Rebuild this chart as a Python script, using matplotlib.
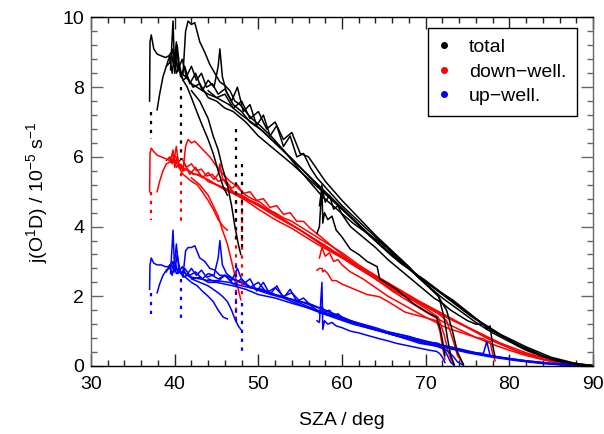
import matplotlib
matplotlib.use("Agg")
import matplotlib.pyplot as plt
from matplotlib.lines import Line2D

plt.rcParams['font.family'] = ['Liberation Sans', 'DejaVu Sans']
plt.rcParams['mathtext.default'] = 'regular'

# ---- flight tracks (SZA, total / down-welling / up-welling j(O1D)) ----
x1 = [37.0, 37.05, 37.2, 37.5, 37.9, 38.4, 38.9, 39.3, 39.6, 39.8, 40.1, 40.4, 40.8, 41.3, 42.0, 43.0, 44.0, 45.0, 46.5, 48.0, 50.0, 52.0, 55.0, 58.0, 61.0, 64.0, 67.0, 70.0, 73.0, 76.0, 79.0, 82.0, 85.0, 88.0, 90.0]
t1 = [7.6, 9.3, 9.5, 9.1, 8.95, 8.9, 8.85, 8.9, 9.0, 8.7, 8.8, 8.5, 8.4, 8.3, 8.1, 7.95, 7.8, 7.7, 7.5, 7.2, 6.85, 6.4, 5.7, 5.0, 4.3, 3.6, 2.95, 2.45, 1.9, 1.35, 0.9, 0.55, 0.25, 0.07, 0.01]
d1 = [5.0, 6.1, 6.25, 6.15, 6.05, 6.0, 5.95, 5.9, 6.0, 5.85, 5.9, 5.75, 5.7, 5.65, 5.55, 5.45, 5.35, 5.2, 5.05, 4.85, 4.6, 4.3, 3.9, 3.45, 2.95, 2.5, 2.05, 1.75, 1.35, 1.0, 0.65, 0.38, 0.17, 0.05, 0.01]
u1 = [2.2, 2.9, 3.1, 2.95, 2.9, 2.9, 2.85, 2.85, 2.95, 2.8, 2.9, 2.7, 2.7, 2.65, 2.55, 2.5, 2.45, 2.45, 2.4, 2.3, 2.2, 2.05, 1.85, 1.6, 1.3, 1.05, 0.85, 0.7, 0.55, 0.38, 0.25, 0.15, 0.08, 0.03, 0.005]

x2 = [37.9, 38.2, 38.6, 39.0, 39.4, 39.8, 40.2, 40.6, 41.0, 41.5, 42.2, 43.0, 44.0, 45.0, 46.0, 47.0, 48.5, 50.0, 52.0, 54.0, 57.0, 60.0, 63.0, 66.0, 69.0, 72.0, 75.0, 78.0, 81.0, 84.0, 87.0, 90.0]
t2 = [7.35, 7.8, 8.3, 8.6, 8.7, 9.1, 8.4, 8.6, 8.2, 8.3, 8.0, 8.1, 7.7, 7.6, 7.4, 7.3, 7.0, 6.6, 6.2, 5.8, 5.15, 4.5, 3.8, 3.15, 2.6, 2.05, 1.5, 1.0, 0.62, 0.3, 0.1, 0.01]
d2 = [5.0, 5.3, 5.6, 5.8, 5.85, 6.1, 5.7, 5.8, 5.6, 5.65, 5.5, 5.5, 5.3, 5.2, 5.05, 4.95, 4.75, 4.5, 4.2, 3.95, 3.5, 3.1, 2.65, 2.2, 1.85, 1.45, 1.1, 0.72, 0.42, 0.2, 0.06, 0.01]
u2 = [2.1, 2.35, 2.6, 2.75, 2.8, 3.0, 2.65, 2.75, 2.55, 2.6, 2.5, 2.55, 2.4, 2.4, 2.35, 2.3, 2.2, 2.05, 1.95, 1.8, 1.6, 1.35, 1.1, 0.9, 0.72, 0.55, 0.38, 0.25, 0.15, 0.07, 0.02, 0.0]

x3 = [39.9, 40.2, 40.5, 41.0, 41.5, 42.0, 42.7, 43.3, 44.0, 44.6, 45.2, 45.8, 46.3]
t3 = [8.6, 9.3, 8.5, 8.2, 8.0, 7.7, 7.26, 6.9, 6.5, 6.1, 5.6, 5.14, 4.9]
d3 = [5.9, 6.3, 5.7, 5.5, 5.4, 5.3, 5.2, 5.0, 4.75, 4.5, 4.2, 4.0, 3.9]
u3 = [2.7, 3.5, 2.75, 2.6, 2.5, 2.4, 2.3, 2.15, 2.0, 1.85, 1.6, 1.4, 1.35]

x4 = [41.0, 41.3, 41.6, 42.0, 42.4, 43.0, 43.6, 44.2, 44.8, 45.4, 46.0, 46.6, 47.2, 47.8, 48.5, 49.2, 50.2, 51.5, 53.0, 55.0, 57.7, 61.3, 65.4, 69.3, 73.2, 77.3, 81.3, 85.2, 88.0, 90.0]
t4 = [8.4, 9.6, 9.9, 9.8, 9.85, 9.3, 9.0, 8.65, 8.4, 8.15, 8.05, 7.9, 7.6, 7.5, 7.3, 7.1, 6.9, 6.6, 6.2, 5.6, 4.85, 4.1, 3.4, 2.5, 1.9, 1.12, 0.55, 0.17, 0.05, 0.01]
d4 = [5.6, 6.3, 6.5, 6.4, 6.45, 6.3, 6.15, 6.0, 5.8, 5.6, 5.45, 5.3, 5.2, 5.05, 4.9, 4.8, 4.7, 4.45, 4.2, 3.9, 3.45, 2.95, 2.4, 1.85, 1.35, 0.8, 0.38, 0.12, 0.04, 0.01]
u4 = [2.6, 3.3, 3.4, 3.4, 3.45, 3.1, 3.0, 2.8, 2.75, 2.6, 2.6, 2.55, 2.45, 2.4, 2.35, 2.25, 2.15, 2.05, 1.95, 1.75, 1.5, 1.2, 0.95, 0.65, 0.5, 0.3, 0.17, 0.06, 0.02, 0.0]

x5 = [39.5, 39.8, 40.0, 40.3, 40.7, 41.2, 41.8, 42.5, 43.3, 44.0, 44.7, 45.2, 45.4, 45.7, 46.2, 47.0, 48.0, 49.0, 50.5, 52.0, 54.0, 56.0, 58.0, 60.0, 62.0, 64.0, 66.0, 68.0, 70.0, 71.5, 72.2, 72.6, 73.0, 73.4]
t5 = [8.5, 9.9, 8.4, 9.2, 8.3, 8.6, 8.1, 8.4, 7.9, 8.2, 8.0, 8.6, 9.1, 8.3, 7.85, 7.5, 7.3, 7.0, 6.75, 6.4, 5.95, 5.45, 4.95, 4.5, 4.05, 3.6, 3.2, 2.8, 2.35, 2.05, 1.4, 0.8, 0.3, 0.05]
d5 = [5.85, 6.2, 5.7, 6.0, 5.65, 5.8, 5.5, 5.7, 5.4, 5.55, 5.35, 5.5, 5.8, 5.4, 5.2, 5.0, 4.9, 4.75, 4.55, 4.35, 4.05, 3.75, 3.45, 3.15, 2.85, 2.55, 2.25, 1.95, 1.65, 1.4, 0.9, 0.5, 0.2, 0.03]
u5 = [2.65, 3.9, 2.7, 3.2, 2.65, 2.8, 2.6, 2.7, 2.5, 2.65, 2.6, 3.1, 3.6, 2.9, 2.65, 2.5, 2.4, 2.25, 2.2, 2.05, 1.9, 1.7, 1.5, 1.35, 1.2, 1.05, 0.95, 0.85, 0.7, 0.65, 0.5, 0.3, 0.1, 0.02]

x6 = [57.0, 57.3, 57.6, 57.7, 57.9, 58.3, 58.8, 59.3, 60.0, 61.0, 62.0, 63.0, 64.2, 64.5, 65.5, 66.5, 67.5, 68.5, 69.5, 70.5, 71.3, 71.7, 72.0, 72.3]
t6 = [3.8, 4.0, 5.2, 4.1, 4.4, 4.2, 4.3, 3.9, 3.7, 3.35, 3.2, 3.0, 2.85, 2.5, 2.35, 2.2, 2.0, 1.8, 1.65, 1.5, 1.4, 1.1, 0.75, 0.3]
d6 = [2.75, 2.8, 2.8, 2.7, 2.75, 2.65, 2.45, 2.45, 2.35, 2.25, 2.15, 2.05, 2.0, 1.98, 1.85, 1.7, 1.55, 1.48, 1.42, 1.35, 1.3, 1.0, 0.55, 0.2]
u6 = [1.3, 1.25, 2.4, 1.05, 1.3, 1.2, 1.25, 1.15, 1.1, 1.0, 0.95, 0.88, 0.8, 0.78, 0.72, 0.65, 0.6, 0.55, 0.5, 0.45, 0.42, 0.35, 0.25, 0.1]

x7 = [57.3, 57.6, 58.0, 58.5, 59.0, 59.5, 60.0, 61.0, 62.5, 64.0, 65.5, 67.0, 68.5, 70.0, 71.0, 72.0, 73.0, 74.0, 75.0, 76.0, 76.9, 77.3, 77.7, 78.0, 78.3]
t7 = [4.6, 5.1, 4.7, 4.9, 4.5, 4.6, 4.35, 4.0, 3.7, 3.4, 3.05, 2.75, 2.45, 2.15, 1.95, 1.8, 1.6, 1.45, 1.3, 1.2, 1.2, 1.05, 1.15, 0.6, 0.25]
d7 = [3.1, 3.4, 3.15, 3.25, 3.0, 3.05, 2.9, 2.7, 2.5, 2.25, 2.0, 1.8, 1.6, 1.4, 1.28, 1.15, 1.05, 0.98, 0.9, 0.82, 0.78, 0.72, 0.7, 0.35, 0.15]
u7 = [1.5, 1.7, 1.55, 1.6, 1.45, 1.5, 1.4, 1.3, 1.2, 1.1, 0.98, 0.9, 0.8, 0.72, 0.65, 0.6, 0.52, 0.47, 0.42, 0.38, 0.36, 0.7, 0.3, 0.28, 0.25]

x8 = [44.0, 45.0, 46.0, 47.0, 48.0, 49.0, 50.0, 51.0, 52.0, 53.0, 54.0, 55.0, 56.0, 58.0, 60.0, 62.0, 64.0, 66.0, 68.0, 70.0, 71.5, 72.5, 73.2, 73.8, 74.5]
t8 = [7.9, 7.7, 7.8, 7.4, 7.6, 7.1, 7.3, 6.8, 7.0, 6.5, 6.7, 6.1, 6.0, 5.3, 4.75, 4.25, 3.75, 3.3, 2.85, 2.35, 2.0, 1.6, 1.0, 0.4, 0.05]
d8 = [5.3, 5.2, 5.1, 4.95, 4.9, 4.75, 4.65, 4.5, 4.4, 4.25, 4.15, 4.0, 3.85, 3.55, 3.25, 2.9, 2.6, 2.3, 2.0, 1.7, 1.5, 1.3, 0.8, 0.3, 0.05]
u8 = [2.5, 2.4, 2.6, 2.35, 2.5, 2.25, 2.4, 2.1, 2.25, 2.0, 2.1, 1.85, 1.8, 1.6, 1.4, 1.2, 1.05, 0.9, 0.78, 0.65, 0.55, 0.45, 0.3, 0.12, 0.02]

x9 = [42.0, 43.0, 44.0, 44.6, 45.2, 45.7, 46.3, 46.8, 47.2, 47.6, 47.9]
t9 = [7.9, 7.6, 7.1, 6.6, 6.2, 5.7, 5.2, 4.6, 4.0, 3.5, 3.2]
d9 = [5.4, 5.2, 4.9, 4.6, 4.3, 3.9, 3.5, 3.0, 2.6, 2.2, 1.9]
u9 = [2.5, 2.4, 2.3, 2.2, 2.1, 2.0, 1.85, 1.6, 1.35, 1.15, 1.05]

x10 = [39.0, 39.4, 39.7, 40.0, 40.4, 40.9, 41.4, 42.0, 42.6, 43.2, 43.8, 44.5, 45.2, 46.0, 46.8, 47.5, 48.2, 49.0, 49.8, 50.6, 51.4, 52.2, 53.0, 53.8, 54.6, 55.4, 56.2, 57.0, 58.5, 60.0, 62.0, 64.0, 66.0, 68.0, 70.0, 72.0, 74.0, 76.0, 78.0, 80.0, 82.0, 84.0, 86.0, 88.0, 90.0]
t10 = [8.6, 8.9, 8.4, 9.0, 8.5, 8.8, 8.3, 8.6, 8.2, 8.4, 8.0, 8.1, 7.8, 7.95, 7.6, 8.0, 7.3, 7.5, 6.9, 7.2, 6.6, 6.9, 6.3, 6.6, 6.0, 6.1, 5.7, 5.4, 5.0, 4.6, 4.15, 3.7, 3.25, 2.8, 2.35, 1.95, 1.6, 1.25, 0.95, 0.7, 0.45, 0.27, 0.13, 0.04, 0.0]
d10 = [5.9, 6.0, 5.8, 6.05, 5.85, 5.95, 5.7, 5.8, 5.6, 5.65, 5.45, 5.5, 5.3, 5.35, 5.1, 5.2, 4.95, 5.0, 4.75, 4.8, 4.55, 4.6, 4.35, 4.4, 4.15, 4.15, 3.95, 3.8, 3.5, 3.2, 2.85, 2.5, 2.15, 1.85, 1.55, 1.28, 1.05, 0.82, 0.62, 0.45, 0.3, 0.18, 0.08, 0.02, 0.0]
u10 = [2.7, 2.9, 2.6, 3.0, 2.65, 2.85, 2.6, 2.8, 2.6, 2.75, 2.55, 2.6, 2.5, 2.6, 2.45, 2.8, 2.35, 2.5, 2.15, 2.4, 2.05, 2.3, 1.95, 2.2, 1.85, 1.95, 1.75, 1.6, 1.5, 1.35, 1.2, 1.05, 0.9, 0.78, 0.66, 0.55, 0.45, 0.36, 0.28, 0.2, 0.13, 0.08, 0.04, 0.01, 0.0]

# ---- vertical profiles (aircraft ascents/descents at ~constant SZA) ----
prof_sza = [37.2, 40.8, 47.3, 48.0]
prof_tot_top = [7.3, 8.0, 6.8, 5.8]
prof_tot_bot = [6.5, 5.9, 3.6, 3.4]
prof_down_top = [5.0, 5.8, 5.0, 4.7]
prof_down_bot = [4.2, 4.1, 1.3, 2.0]
prof_up_top = [2.1, 2.5, 2.9, 1.8]
prof_up_bot = [1.5, 1.3, 1.2, 0.4]

flights = [(x1, t1, d1, u1), (x2, t2, d2, u2), (x3, t3, d3, u3), (x4, t4, d4, u4),
           (x5, t5, d5, u5), (x6, t6, d6, u6), (x7, t7, d7, u7), (x8, t8, d8, u8),
           (x9, t9, d9, u9), (x10, t10, d10, u10)]

series_labels = ['total', 'down\u2212well.', 'up\u2212well.']
series_colors = ['black', '#ff0000', '#0000ff']

fig = plt.figure(figsize=(6.04, 4.34), dpi=100)
ax = fig.add_axes([0.1507, 0.1567, 0.8311, 0.8030])

lw = 1.1
for xs, ts, ds, us in flights:
    ax.plot(xs, ds, color=series_colors[1], lw=lw)
for xs, ts, ds, us in flights:
    ax.plot(xs, us, color=series_colors[2], lw=lw)
for xs, ts, ds, us in flights:
    ax.plot(xs, ts, color=series_colors[0], lw=lw)

for i, s in enumerate(prof_sza):
    ax.plot([s, s], [prof_down_top[i], prof_down_bot[i]], color=series_colors[1], lw=1.6, ls=(0, (1.5, 2.5)))
    ax.plot([s, s], [prof_up_top[i], prof_up_bot[i]], color=series_colors[2], lw=1.6, ls=(0, (1.5, 2.5)))
    ax.plot([s, s], [prof_tot_top[i], prof_tot_bot[i]], color=series_colors[0], lw=1.6, ls=(0, (1.5, 2.5)))

ax.set_xlim(30, 90)
ax.set_ylim(0, 10)
ax.set_xticks([30, 40, 50, 60, 70, 80, 90])
ax.set_yticks([0, 2, 4, 6, 8, 10])
ax.set_xticks([x for x in range(30, 91, 2)], minor=True)
ax.set_yticks([i * 0.4 for i in range(26)], minor=True)
ax.tick_params(which='both', direction='in', top=True, right=True, labelsize=14, width=1.0)
ax.tick_params(which='major', length=8.5)
ax.tick_params(which='minor', length=4.3)
ax.tick_params(axis='x', which='both', pad=7, colors='#222222', labelcolor='black')
ax.tick_params(axis='y', which='both', pad=5, colors='#666666', labelcolor='black')
for side in ['left', 'right']:
    ax.spines[side].set_color('#666666')
for sp in ax.spines.values():
    sp.set_linewidth(1.0)

ax.set_xlabel('SZA / deg', fontsize=14, labelpad=14)
ax.set_ylabel(r'j(O$^1$D) / 10$^{-5}$ s$^{-1}$', fontsize=14, labelpad=9)

handles = [Line2D([], [], color=c, marker='o', ls='none', markersize=4) for c in series_colors]
leg = ax.legend(handles, series_labels, loc='upper right', fontsize=14, frameon=True,
                fancybox=False, edgecolor='black', framealpha=1, borderpad=0.55,
                labelspacing=0.35, handlelength=0.6, handletextpad=0.96,
                borderaxespad=0, bbox_to_anchor=(0.968, 0.97))
leg.get_frame().set_linewidth(1.0)

fig.savefig('out.png', dpi=100)
